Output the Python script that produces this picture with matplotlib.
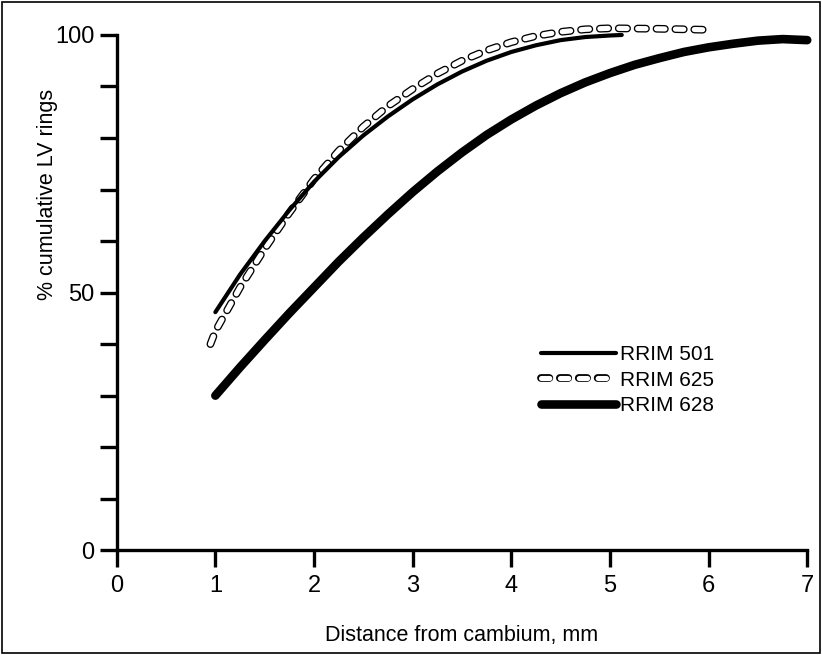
import matplotlib.pyplot as plt
import numpy as np
from matplotlib.legend_handler import HandlerTuple
from matplotlib.patches import Rectangle

plt.rcParams['font.family'] = ['Liberation Sans', 'DejaVu Sans']
plt.rcParams['lines.scale_dashes'] = False

# values
x501 = [1.0, 1.25, 1.5, 1.75, 2.0, 2.25, 2.5, 2.75, 3.0, 3.25, 3.5, 3.75,
        4.0, 4.25, 4.5, 4.75, 5.0, 5.12]
y501 = [46.2, 53.5, 60, 66, 71.5, 76.3, 80.5, 84.2, 87.5, 90.4, 92.9, 95,
        96.7, 98, 99, 99.6, 99.9, 100]

x625 = [0.95, 1.0, 1.25, 1.5, 1.75, 2.0, 2.25, 2.5, 2.75, 3.0, 3.25, 3.5,
        3.75, 4.0, 4.25, 4.5, 4.75, 5.0, 5.5, 6.0]
y625 = [40, 42.5, 51, 58.5, 65.5, 72, 77.5, 82.2, 86.2, 89.5, 92.5, 95,
        97, 98.6, 99.8, 100.6, 101.1, 101.3, 101.2, 101]

x628 = [1.0, 1.25, 1.5, 1.75, 2.0, 2.25, 2.5, 2.75, 3.0, 3.25, 3.5, 3.75,
        4.0, 4.25, 4.5, 4.75, 5.0, 5.25, 5.5, 5.75, 6.0, 6.25, 6.5, 6.75, 7.0]
y628 = [30, 35.5, 40.8, 46, 51, 56, 60.7, 65.2, 69.5, 73.5, 77.2, 80.6,
        83.6, 86.3, 88.7, 90.8, 92.6, 94.2, 95.5, 96.7, 97.6, 98.3, 98.9, 99.2, 99.0]

labels = ["RRIM 501", "RRIM 625", "RRIM 628"]
xticks = [0, 1, 2, 3, 4, 5, 6, 7]
yticks_major = [0, 50, 100]

fig = plt.figure(figsize=(8.22, 6.55), dpi=100)
ax = fig.add_axes([0.142, 0.160, 0.840, 0.7866])

# RRIM 625: hollow rounded dashes = black dashes with a white core
o625, = ax.plot(x625, y625, color='black', lw=5.6, linestyle=(0, (6, 7.6)),
                dash_capstyle='round', clip_on=False, zorder=2)
i625, = ax.plot(x625, y625, color='white', lw=3.7, linestyle=(0, (6, 7.6)),
                dash_capstyle='round', clip_on=False, zorder=2.1)
l501, = ax.plot(x501, y501, color='black', lw=3.0, solid_capstyle='round',
                clip_on=False, zorder=3)
l628, = ax.plot(x628, y628, color='black', lw=6.2, solid_capstyle='round',
                clip_on=False, zorder=3)

ax.set_xlim(0, 7)
ax.set_ylim(0, 100)
ax.set_xticks(xticks)
ax.set_yticks(yticks_major)
ax.set_yticks(np.arange(0, 101, 10), minor=True)
ax.tick_params(axis='both', which='both', direction='out', length=12, width=2.4,
               labelsize=17)
ax.tick_params(axis='y', which='minor', labelleft=False)
ax.tick_params(axis='y', pad=4)
ax.tick_params(axis='x', pad=6)

for s in ['top', 'right']:
    ax.spines[s].set_visible(False)
for s in ['left', 'bottom']:
    ax.spines[s].set_linewidth(2.4)

ax.set_xlabel("Distance from cambium, mm", fontsize=15.5)
ax.xaxis.set_label_coords(0.5, -0.165)
ax.xaxis.label.set_va('center')
ax.set_ylabel("% cumulative LV rings", fontsize=15.5)
ax.yaxis.set_label_coords(-0.100, 0.69)
ax.yaxis.label.set_va('center')

ax.legend([l501, (o625, i625), l628], labels,
          handler_map={tuple: HandlerTuple(ndivide=1, pad=0)},
          loc='center left', bbox_to_anchor=(0.60, 0.33), frameon=False,
          fontsize=15, handlelength=3.6, handletextpad=0.15,
          labelspacing=0.3, borderpad=0)

fig.patches.append(Rectangle((0.003, 0.003), 0.994, 0.994, transform=fig.transFigure,
                             fill=False, edgecolor='black', lw=1.2))

fig.savefig("out.png", dpi=100)
